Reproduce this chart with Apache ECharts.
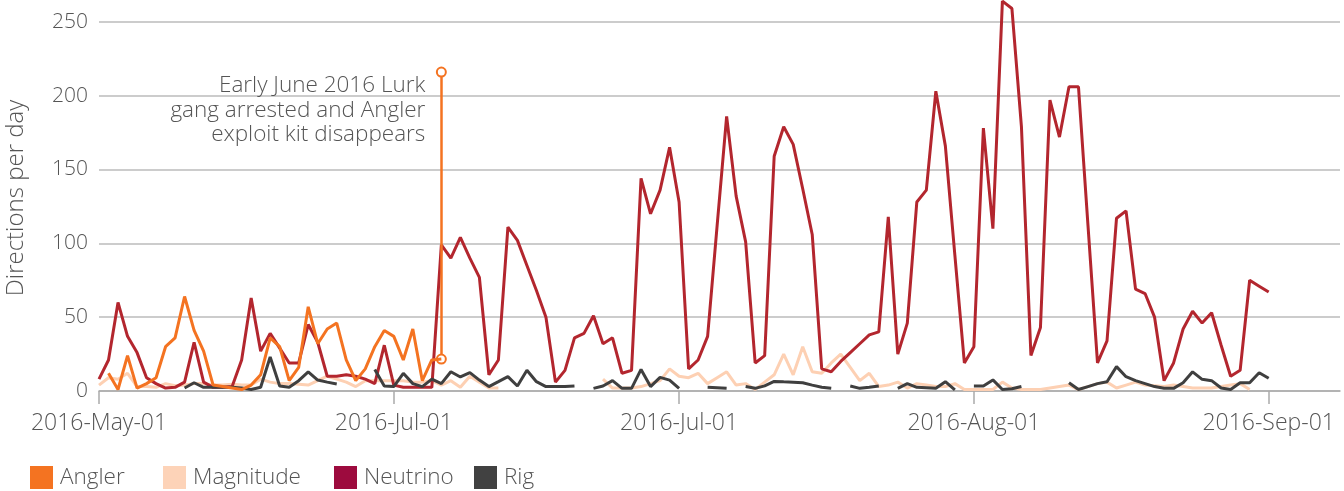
<!DOCTYPE html>
<html><head><meta charset="utf-8">
<script src="https://cdn.jsdelivr.net/npm/echarts@6/dist/echarts.min.js"></script>
<style>html,body{margin:0;padding:0;background:#fff}#c{width:1344px;height:491px}</style>
</head><body><div id="c"></div>
<script>
// Day index 0 = 2016-05-01
const tickDays = [0, 31, 61, 92, 123];
const tickLabels = ['2016-May-01', '2016-Jul-01', '2016-Jul-01', '2016-Aug-01', '2016-Sep-01'];
const seriesNames = ['Angler', 'Magnitude', 'Neutrino', 'Rig'];
const yTicks = [0, 50, 100, 150, 200, 250];
const _ = null;

const angler = [_,12,1,24,2,5,9,30,36,64, 41,27,4,3,2,1,4,11,36,30, 7,16,57,32,42,46,21,7,15,30, 41,37,21,42,7,21,21.6];

const magnitude = [4,9,8,12,3,3,2.5,5,3.5,4, 5,5,4,4,4.5,4,4,8,6,5, 5,4.5,4,7,10,8,6,3,7,7, 7,7,7,6,6,7,4,7,2.5,10, 6,2,2,_,_,_,_,_,_,_, _,_,_,8,2,2,2,3,5,7, 15,10,9,12,5,9,13,4,5,1, 6,11,25,11,30,13,12,19,25,16, 7,12,3,4,6,2,5,4,3,3, 5,1,1,1,1,6,2,1,1,1, 2,3,4,1,3,5,6,2,4,6, 4,3.5,3,4,3,2,2,2,3,4, 5,1,_,_];

const neutrino = [8,21,60,37,26,9,5,2,2.5,6, 33,6,2.5,2.5,3,21,63,27,39,29, 19,19,45,33,10,10,11,10,8,5, 31,4,2.5,2.5,2.5,2.5,99,90,104,90, 77,11,21,111,102,85,68,50,6,14, 36,39,51,32,36,12,14,144,120,136, 165,128,15,21,37,112,186,132,101,19, 24,159,179,167,137,106,15,13,20,26, 32,38,40,118,25,46,128,136,203,166, 92,19,30,178,110,264,259,179,24,43, 197,172,206,206,112,19,34,117,122,69, 66,50,7,19,42,54,46,53,31,10, 14,75,71,67];

const rig = [_,_,_,_,_,_,_,_,_,2, 5.6,2.5,2.5,2.5,2.5,2,1,2.5,23,3.4, 2.5,7,13,7.4,6,4.7,_,_,_,14.6, 3.4,3,12,5,3,8,5,13,9.5,12.4, 7.4,3,6.3,9.7,3.4,14,6.3,3,3,3, 3.4,_,1.8,3.4,7,1.8,1.8,14.6,3,9.2, 7.4,1.8,_,_,2.5,2.2,1.8,_,3,1.8, 3.5,6.5,6.2,6,5.6,4,2.5,1.8,_,3.4, 1.8,2.5,3.4,_,1.8,5,2.5,2.2,1.8,6.3, 0.7,_,3.4,3.4,7.5,1,1.5,3,_,_, _,_,5.6,1,3,5,6.3,16.5,9.7,7, 5,3,1.8,1.8,5.6,13,7.9,7,2,1, 5.6,5.6,12.4,8.6];

const annotationDay = 36;
const annotationFrom = 21.6;
const annotationTo = 216;
const annotationTextValue = 190;
const annotationText = ['Early June 2016 Lurk', 'gang arrested and Angler', 'exploit kit disappears'];

const lineColors = {Angler: '#f47321', Magnitude: '#fdd0b3', Neutrino: '#b3262e', Rig: '#3f3f3f'};
const legendColors = {Angler: '#f47321', Magnitude: '#fdd3b8', Neutrino: '#9d0b3e', Rig: '#414141'};
const legendLeft = [30, 163, 334, 474];

const FONT = '"Open Sans", Roboto, sans-serif';
const TXT = '#555';

function pairs(arr) { return arr.map((v, i) => [i, v == null ? '-' : v]); }
const dataMap = {Angler: angler, Magnitude: magnitude, Neutrino: neutrino, Rig: rig};
const zMap = {Magnitude: 2, Neutrino: 3, Rig: 4, Angler: 5};

const chart = echarts.init(document.getElementById('c'), null, {renderer: 'canvas'});

const series = seriesNames.map(name => {
  const s = {
    name, type: 'line', data: pairs(dataMap[name]), showSymbol: false, symbol: 'none',
    connectNulls: false, animation: false, z: zMap[name],
    lineStyle: {color: lineColors[name], width: 3},
    itemStyle: {color: legendColors[name]},
    emphasis: {disabled: true}
  };
  if (name === 'Angler') {
    s.markLine = {
      silent: true, animation: false, symbol: ['emptyCircle', 'emptyCircle'], symbolSize: 9,
      label: {show: false}, emphasis: {disabled: true},
      lineStyle: {color: lineColors.Angler, width: 2.5, type: 'solid'},
      itemStyle: {color: lineColors.Angler, borderWidth: 2.5},
      data: [[{coord: [annotationDay, annotationFrom]}, {coord: [annotationDay, annotationTo]}]]
    };
    s.markPoint = {
      silent: true, animation: false, symbol: 'circle', symbolSize: 0,
      data: [{
        coord: [annotationDay, annotationTextValue],
        label: {show: true, position: 'left', distance: 16, align: 'right',
          formatter: annotationText.join('\n'), fontSize: 22.5, lineHeight: 24.5,
          color: TXT, fontFamily: FONT, fontWeight: 300}
      }]
    };
  }
  return s;
});

chart.setOption({
  animation: false,
  textStyle: {fontFamily: FONT, fontWeight: 300},
  grid: {left: 99, right: 4, top: -52, bottom: 100, containLabel: false, outerBoundsMode: 'none'},
  xAxis: {
    type: 'value', min: 0, max: 130.5,
    axisLine: {show: true, lineStyle: {color: '#aaa', width: 1.5}},
    axisTick: {show: true, customValues: tickDays, length: 13, lineStyle: {color: '#aaa', width: 1.5}},
    axisLabel: {customValues: tickDays, formatter: v => tickLabels[tickDays.indexOf(v)] || '',
      fontSize: 23, color: TXT, margin: 21, fontFamily: FONT, fontWeight: 300},
    splitLine: {show: false}
  },
  yAxis: {
    type: 'value', min: 0, max: 300, interval: 50,
    axisLine: {show: false}, axisTick: {show: false},
    axisLabel: {fontSize: 21, color: TXT, margin: 11, fontFamily: FONT, fontWeight: 300,
      formatter: v => yTicks.indexOf(v) >= 0 ? String(v) : ''},
    splitLine: {show: true, lineStyle: {color: '#bbb', width: 1.5}}
  },
  legend: seriesNames.map((name, i) => ({
    left: legendLeft[i], top: 466, itemWidth: 23, itemHeight: 23, icon: 'rect',
    selectedMode: false, padding: 0,
    data: [{name, itemStyle: {color: legendColors[name]}}],
    textStyle: {fontSize: 22.5, color: TXT, fontFamily: FONT, fontWeight: 300, padding: [10, 0, 0, 2]}
  })),
  graphic: [{
    type: 'text', x: 16.5, y: 198, rotation: Math.PI / 2,
    style: {text: 'Directions per day', fontSize: 24, fill: TXT, fontFamily: FONT, fontWeight: 300,
      align: 'center', verticalAlign: 'middle'}
  }],
  series
});
</script></body></html>
